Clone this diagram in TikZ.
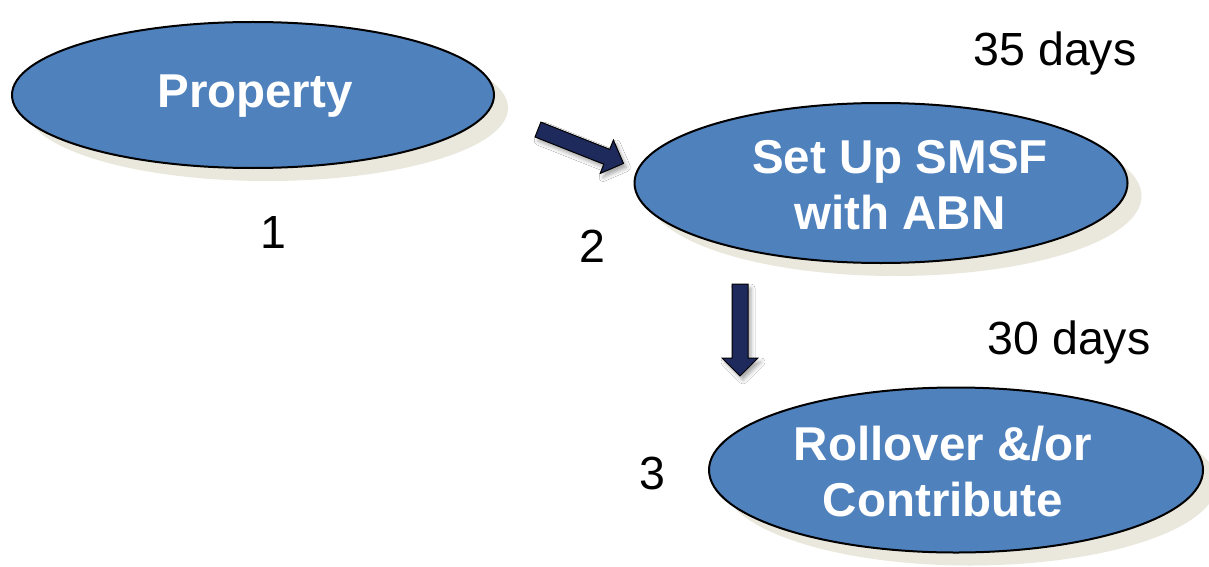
\documentclass[tikz,border=0pt]{standalone}
\usepackage{fontspec}
\setmainfont{Liberation Sans}
\usetikzlibrary{shapes.geometric,shapes.arrows,shadows,shadows.blur}
\definecolor{stepblue}{RGB}{79,129,189}
\definecolor{stepshadow}{RGB}{234,232,220}
\definecolor{arrownavy}{RGB}{30,41,92}
\tikzset{
  stage/.style={ellipse, draw=black, line width=2pt, fill=stepblue, inner sep=0pt,
    drop shadow={shadow xshift=14pt, shadow yshift=-13pt, fill=stepshadow, opacity=1}},
  stagetext/.style={text=white, font=\fontsize{47.5}{56}\selectfont\bfseries,
    align=center, inner sep=0pt},
  steplabel/.style={font=\fontsize{46.5}{56}\selectfont, anchor=base, inner sep=0pt},
  flowarrow/.style={single arrow, draw=black, line width=1pt, fill=arrownavy,
    inner sep=0pt, text height=15pt, text depth=0pt,
    single arrow head extend=10pt, minimum height=92pt,
    blur shadow={shadow xshift=3pt, shadow yshift=-4pt, shadow blur radius=4pt, shadow opacity=35}}
}
\begin{document}
\begin{tikzpicture}[x=1pt, y=-1pt]
  \useasboundingbox[fill=white] (0,0) rectangle (1209,567);

  % the three stages
  \node[stage, minimum width=482pt, minimum height=146pt] (e1) at (253,95) {};
  \node[stagetext] (t1) at (255,96) {Property};

  \node[stage, minimum width=493pt, minimum height=160pt] (e2) at (881,183) {};
  \node[stagetext] (t2) at (900,185) {Set Up SMSF\\with ABN};

  \node[stage, minimum width=494pt, minimum height=165pt] (e3) at (956,470) {};
  \node[stagetext] (t3) at (943,472) {Rollover \&/or\\Contribute};

  % block arrows between the stages
  \node[flowarrow, rotate=-21.6] (a1) at (577,145) {};
  \node[flowarrow, rotate=-90] (a2) at (740,326) {};

  % step numbers and durations
  \node[steplabel] (n1) at (273,248) {1};
  \node[steplabel] (n2) at (592,262) {2};
  \node[steplabel] (n3) at (652,489) {3};
  \node[steplabel] (d1) at (1055,66) {35 days};
  \node[steplabel] (d2) at (1069,354) {30 days};
\end{tikzpicture}
\end{document}
